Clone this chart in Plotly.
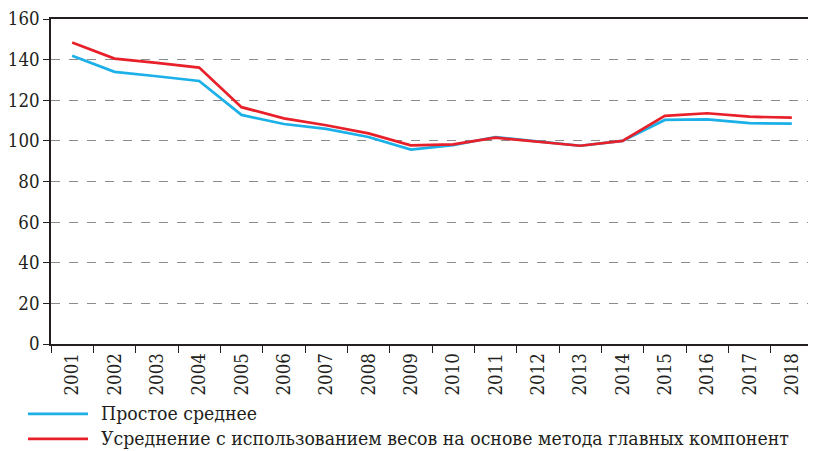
import plotly.graph_objects as go

years = [str(y) for y in range(2001, 2019)]
simple_avg = [141.9, 134.0, 131.8, 129.5, 112.8, 108.3, 105.9, 101.9, 95.7,
              97.9, 101.9, 99.6, 97.6, 100.0, 110.3, 110.6, 108.7, 108.5]
pca_weighted = [148.4, 140.5, 138.4, 136.1, 116.6, 111.1, 107.7, 103.7, 97.8,
                98.3, 101.6, 99.6, 97.6, 100.0, 112.3, 113.6, 111.9, 111.4]
name_simple = "Простое среднее"
name_pca = "Усреднение с использованием весов на основе метода главных компонент"
y_ticks = [0, 20, 40, 60, 80, 100, 120, 140, 160]

FONT = "DejaVu Serif Condensed"
BLUE = "#1CB0E8"
RED = "#E8202A"
TXT = "#231F20"

fig = go.Figure()
fig.add_trace(go.Scatter(x=years, y=simple_avg, name=name_simple, mode="lines",
                         line=dict(color=BLUE, width=2.7)))
fig.add_trace(go.Scatter(x=years, y=pca_weighted, name=name_pca, mode="lines",
                         line=dict(color=RED, width=2.7)))

# legend drawn as shapes + text so the sample lines can be as long as in the original
leg_rows = [(name_simple, BLUE, -0.215), (name_pca, RED, -0.292)]
for text, col, yy in leg_rows:
    fig.add_shape(type="line", xref="paper", yref="paper", x0=-0.0302, x1=0.0486,
                  y0=yy, y1=yy, line=dict(color=col, width=2.7))
    fig.add_annotation(text=text, xref="paper", yref="paper", x=0.063, y=yy,
                       xanchor="left", yanchor="middle", showarrow=False,
                       font=dict(family=FONT, size=19.3, color=TXT))

fig.update_layout(
    width=808, height=443,
    margin=dict(l=43, r=3, t=11, b=107, autoexpand=False),
    paper_bgcolor="white", plot_bgcolor="white",
    font=dict(family=FONT, size=18, color=TXT),
    showlegend=False,
    xaxis=dict(type="category", range=[-0.5, len(years) - 0.5], tickangle=-90,
               showgrid=False, automargin=False,
               showline=True, linecolor=TXT, linewidth=1.5,
               mirror=True, ticks="outside", ticklen=7, tickcolor=TXT,
               tickson="boundaries", tickfont=dict(family=FONT, size=18.5)),
    yaxis=dict(range=[0, 160], tickvals=y_ticks, showgrid=True, automargin=False,
               gridcolor="#8C8C8C", griddash="dash", gridwidth=1,
               showline=True, linecolor=TXT, linewidth=1.5, mirror=True,
               ticks="outside", ticklen=6, tickcolor=TXT,
               zeroline=False, tickfont=dict(family=FONT, size=18.5)),
)

fig.write_html("out.html")
